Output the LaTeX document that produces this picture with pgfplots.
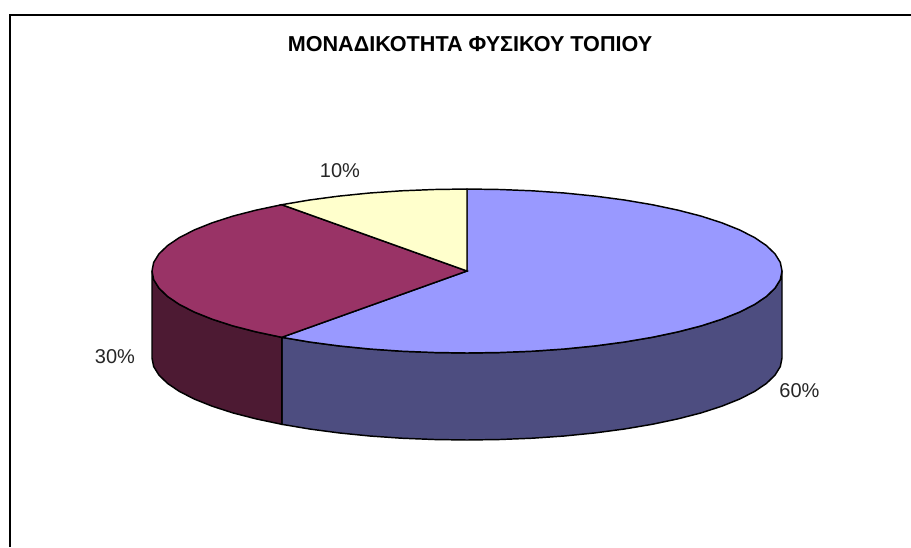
\documentclass[border=0pt]{standalone}
\usepackage{fontspec}
\setmainfont{Liberation Sans}
\usepackage{pgfplots}
\pgfplotsset{compat=1.18}
\definecolor{blueTop}{HTML}{9999FF}
\definecolor{blueSide}{HTML}{4D4D80}
\definecolor{plumTop}{HTML}{993366}
\definecolor{plumSide}{HTML}{4D1A33}
\definecolor{creamTop}{HTML}{FFFFCC}
\begin{document}
\begin{tikzpicture}
\path[use as bounding box] (0,0) rectangle (683.25pt,410.25pt);
\begin{axis}[
  at={(0,0)}, anchor=south west,
  width=683.25pt, height=410.25pt,
  scale only axis,
  xmin=0, xmax=911, ymin=0, ymax=547,
  y dir=reverse,
  hide axis,
  clip=true,
]
% outer frame (left and top edges; the rest lies outside the crop)
\addplot[black, line width=1.5pt] coordinates {(10,547) (10,14.5) (911,14.5)};
% side of the 60 % slice
\addplot[fill=blueSide, draw=black, line width=1.1pt] coordinates {
(782,271) (782,358) (780.3,366.6) (775.1,375) (766.6,383.3) (754.8,391.3) (739.8,399) (721.8,406.2) (701.1,412.9) (677.8,418.9) (652.2,424.3) (624.5,429) (595.1,432.9) (564.3,436) (532.5,438.2) (499.9,439.5) (467,440)
(434.1,439.5) (401.5,438.2) (369.7,436) (338.9,432.9) (309.5,429) (281.8,424.3)
(281.8,337.3) (309.5,342) (338.9,345.9) (369.7,349) (401.5,351.2) (434.1,352.5) (467,353) (499.9,352.5) (532.5,351.2) (564.3,349) (595.1,345.9) (624.5,342) (652.2,337.3) (677.8,331.9) (701.1,325.9) (721.8,319.2) (739.8,312) (754.8,304.3) (766.6,296.3) (775.1,288) (780.3,279.6) (782,271)
} -- cycle;
% side of the 30 % slice
\addplot[fill=plumSide, draw=black, line width=1.1pt] coordinates {
(281.8,424.3) (256.2,418.9) (232.9,412.9) (212.2,406.2) (194.2,399) (179.2,391.3) (167.4,383.3) (158.9,375) (153.7,366.6) (152,358)
(152,271) (153.7,279.6) (158.9,288) (167.4,296.3) (179.2,304.3) (194.2,312) (212.2,319.2) (232.9,325.9) (256.2,331.9) (281.8,337.3)
} -- cycle;
% top of the 60 % slice
\addplot[fill=blueTop, draw=black, line width=1.1pt] coordinates {
(467,271) (467,189) (499.9,189.5) (532.5,190.8) (564.3,193) (595.1,196.1) (624.5,200) (652.2,204.7) (677.8,210.1) (701.1,216.1) (721.8,222.8) (739.8,230) (754.8,237.7) (766.6,245.7) (775.1,254) (780.3,262.4) (782,271)
(780.3,279.6) (775.1,288) (766.6,296.3) (754.8,304.3) (739.8,312) (721.8,319.2) (701.1,325.9) (677.8,331.9) (652.2,337.3) (624.5,342) (595.1,345.9) (564.3,349) (532.5,351.2) (499.9,352.5) (467,353)
(434.1,352.5) (401.5,351.2) (369.7,349) (338.9,345.9) (309.5,342) (281.8,337.3)
} -- cycle;
% top of the 30 % slice
\addplot[fill=plumTop, draw=black, line width=1.1pt] coordinates {
(467,271) (281.8,337.3) (256.2,331.9) (232.9,325.9) (212.2,319.2) (194.2,312) (179.2,304.3) (167.4,296.3) (158.9,288) (153.7,279.6) (152,271)
(153.7,262.4) (158.9,254) (167.4,245.7) (179.2,237.7) (194.2,230) (212.2,222.8) (232.9,216.1) (256.2,210.1) (281.8,204.7)
} -- cycle;
% top of the 10 % slice
\addplot[fill=creamTop, draw=black, line width=1.1pt] coordinates {
(467,271) (281.8,204.7) (309.5,200) (338.9,196.1) (369.7,193) (401.5,190.8) (434.1,189.5) (467,189)
} -- cycle;
% texts
\node[font=\fontsize{16.2pt}{18pt}\selectfont\bfseries, text=black] at (axis cs:470,44) {ΜΟΝΑΔΙΚΟΤΗΤΑ ΦΥΣΙΚΟΥ ΤΟΠΙΟΥ};
\node[font=\fontsize{15pt}{17pt}\selectfont, text=black!85] at (axis cs:340,171) {10\%};
\node[font=\fontsize{15pt}{17pt}\selectfont, text=black!85] at (axis cs:115,357) {30\%};
\node[font=\fontsize{15pt}{17pt}\selectfont, text=black!85] at (axis cs:799.5,391) {60\%};
\end{axis}
\end{tikzpicture}
\end{document}
